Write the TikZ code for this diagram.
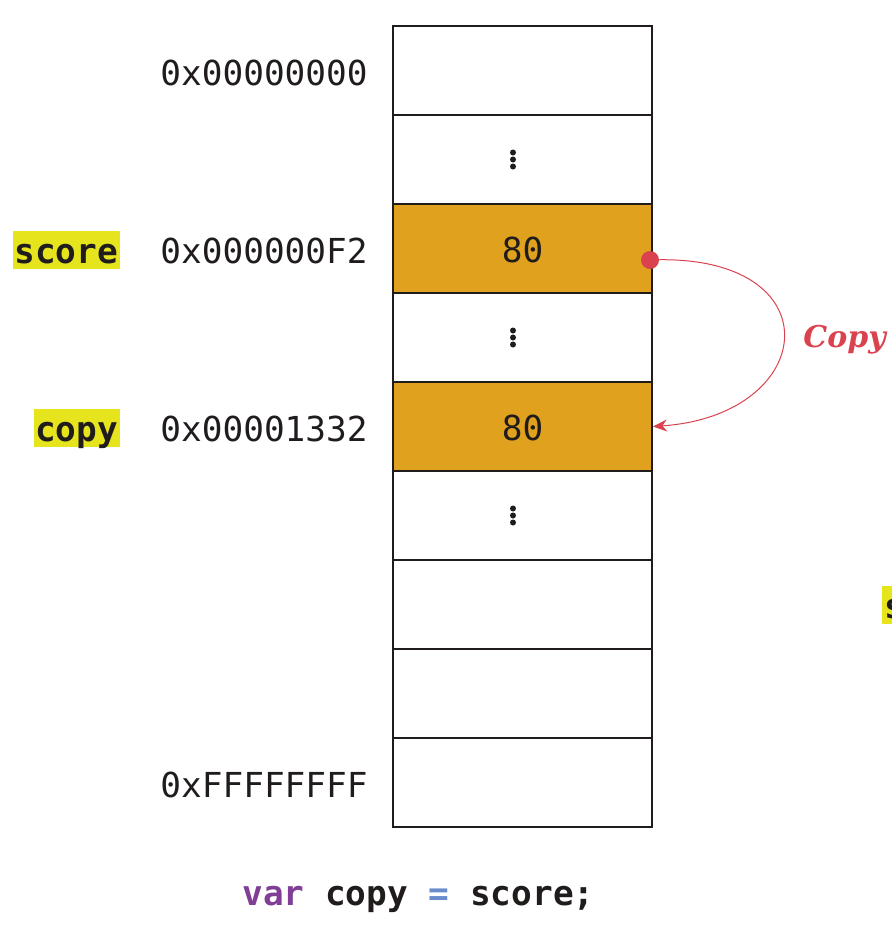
\documentclass[tikz,border=0pt]{standalone}
\usepackage{fontspec}
\setmonofont{DejaVu Sans Mono}
\newfontfamily\copyfont{DejaVu Serif}
\usetikzlibrary{arrows.meta}
\definecolor{cellfill}{RGB}{224,162,30}
\definecolor{hl}{RGB}{230,228,28}
\definecolor{copyred}{RGB}{218,66,78}
\definecolor{kwpurple}{RGB}{128,62,150}
\definecolor{opblue}{RGB}{105,140,205}
\definecolor{ink}{RGB}{32,28,28}
\tikzset{
  cell/.style={draw=ink, line width=1pt, minimum width=129.5pt, minimum height=44.5pt, inner sep=0pt},
  filled/.style={cell, fill=cellfill},
  addr/.style={font=\fontsize{17.2}{20}\selectfont\ttfamily, text=ink, anchor=base east, inner sep=0pt},
  val/.style={font=\fontsize{17.2}{20}\selectfont\ttfamily, text=ink, anchor=base, inner sep=0pt},
  hlbox/.style={font=\fontsize{17.2}{20}\selectfont\ttfamily\bfseries, text=ink, fill=hl, anchor=base east,
    inner xsep=0.8pt, inner ysep=0pt, text height=16pt, text depth=3pt},
  vdot/.style={circle, fill=ink, inner sep=0pt, minimum size=3pt},
  copylbl/.style={font=\copyfont\fontsize{15}{18}\selectfont\bfseries\itshape, text=copyred, inner sep=0pt, anchor=base west},
  codetxt/.style={font=\fontsize{17.2}{20}\selectfont\ttfamily\bfseries, text=ink, anchor=base west, inner sep=0pt}
}
\begin{document}
\begin{tikzpicture}[x=0.5pt,y=-0.5pt]
\useasboundingbox (0,0) rectangle (892,934);
\clip (0,0) rectangle (892,934);
% memory cells
\node[cell]   (c1) at (522.5,70.5) {};
\node[cell]   (c2) at (522.5,159.5) {};
\node[filled] (c3) at (522.5,248.5) {};
\node[cell]   (c4) at (522.5,337.5) {};
\node[filled] (c5) at (522.5,426.5) {};
\node[cell]   (c6) at (522.5,515.5) {};
\node[cell]   (c7) at (522.5,604.5) {};
\node[cell]   (c8) at (522.5,693.5) {};
\node[cell]   (c9) at (522.5,782.5) {};
% values
\node[val] (v3) at (522.5,262) {80};
\node[val] (v5) at (522.5,440) {80};
% ellipsis dots
\foreach \n/\y in {d2/159.5, d4/337.5, d6/515.5}{
  \node[vdot] (\n a) at (513,\y-7) {};
  \node[vdot] (\n b) at (513,\y) {};
  \node[vdot] (\n c) at (513,\y+7) {};
}
% addresses
\node[addr] (a1) at (368,85) {0x00000000};
\node[addr] (a3) at (368,263) {0x000000F2};
\node[addr] (a5) at (368,441) {0x00001332};
\node[addr] (a9) at (368,797) {0xFFFFFFFF};
% variable labels
\node[hlbox] (lscore) at (120,263) {score};
\node[hlbox] (lcopy) at (120,441) {copy};
\node[hlbox, anchor=base west] (lscore2) at (882,618) {score};
% copy arrow
\node[circle, fill=copyred, inner sep=0pt, minimum size=9pt] (dot) at (650,260) {};
\draw[copyred, line width=0.5pt, -{Stealth[length=7pt,width=6pt]}]
  (dot.center) .. controls (835,252) and (820,415) .. (c5.east);
\node[copylbl] (cp) at (803,347) {Copy};
% code line
\node[codetxt] (code) at (242,905) {\textcolor{kwpurple}{var} copy \textcolor{opblue}{=} score;};
\end{tikzpicture}
\end{document}
